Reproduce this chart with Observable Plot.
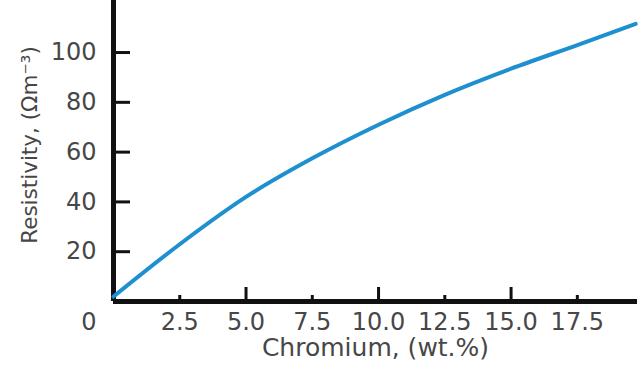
<!DOCTYPE html>
<html>
<head>
<meta charset="utf-8">
<script src="https://cdn.jsdelivr.net/npm/d3@7"></script>
<script src="https://cdn.jsdelivr.net/npm/@observablehq/plot@0.6"></script>
<style>
  html, body { margin: 0; padding: 0; background: #fff; }
</style>
</head>
<body>
<div id="chart"></div>
<script>
// Data
const chromium = [0, 2.5, 5, 7.5, 10, 12.5, 15, 17.5, 19.7];
const resistivity = [2, 23, 42, 57.5, 71, 83, 93.5, 103, 111.5];
const xTickValues = [2.5, 5, 7.5, 10, 12.5, 15, 17.5];
const xMajorTicks = [5, 10, 15];
const xMinorTicks = [2.5, 7.5, 12.5, 17.5];
const yTickValues = [20, 40, 60, 80, 100];
const xTitle = "Chromium, (wt.%)";
const yTitle = "Resistivity, (Ωm⁻³)";

const data = chromium.map((c, i) => ({c, r: resistivity[i]}));

const textColor = "#474747";
const axisColor = "#111";

const chart = Plot.plot({
  width: 639,
  height: 365,
  marginLeft: 113,
  marginRight: 2,
  marginTop: 0,
  marginBottom: 64,
  x: {domain: [0, 19.77], axis: null},
  y: {domain: [0, 120.9], axis: null},
  style: {fontFamily: "DejaVu Sans", color: textColor, background: "white"},
  marks: [
    Plot.axisX(xTickValues, {tickSize: 0, tickPadding: 11, tickFormat: d => d.toFixed(1), fontSize: 24, fill: textColor, label: null}),
    Plot.axisY(yTickValues, {tickSize: 0, tickPadding: 17, fontSize: 24, fill: textColor, label: null}),
    Plot.text(["0"], {x: 0, y: 0, text: d => d, textAnchor: "end", dx: -17, dy: 21, fontSize: 24, fill: textColor}),
    Plot.text([xTitle], {frameAnchor: "bottom", text: d => d, textAnchor: "middle", lineAnchor: "top", dy: 37, fontSize: 25, fill: textColor}),
    Plot.text([yTitle], {frameAnchor: "left", text: d => d, textAnchor: "middle", lineAnchor: "middle", rotate: -90, dx: -83, dy: -6, fontSize: 21.5, fill: textColor}),
    // inward ticks
    Plot.ruleX(xMajorTicks, {x: d => d, y1: 0, y2: 0, insetTop: 0, insetBottom: 14, stroke: axisColor, strokeWidth: 3}),
    Plot.ruleX(xMinorTicks, {x: d => d, y1: 0, y2: 0, insetTop: 0, insetBottom: 6, stroke: axisColor, strokeWidth: 3}),
    Plot.ruleY(yTickValues, {y: d => d, x1: 0, x2: 0, insetLeft: 0, insetRight: -17, stroke: axisColor, strokeWidth: 3}),
    // axis lines
    Plot.ruleX([0], {stroke: axisColor, strokeWidth: 5}),
    Plot.ruleY([0], {stroke: axisColor, strokeWidth: 5}),
    Plot.line(data, {x: "c", y: "r", stroke: "#1e8fcf", strokeWidth: 4, curve: "monotone-x"})
  ]
});
document.getElementById("chart").appendChild(chart);
</script>
</body>
</html>
